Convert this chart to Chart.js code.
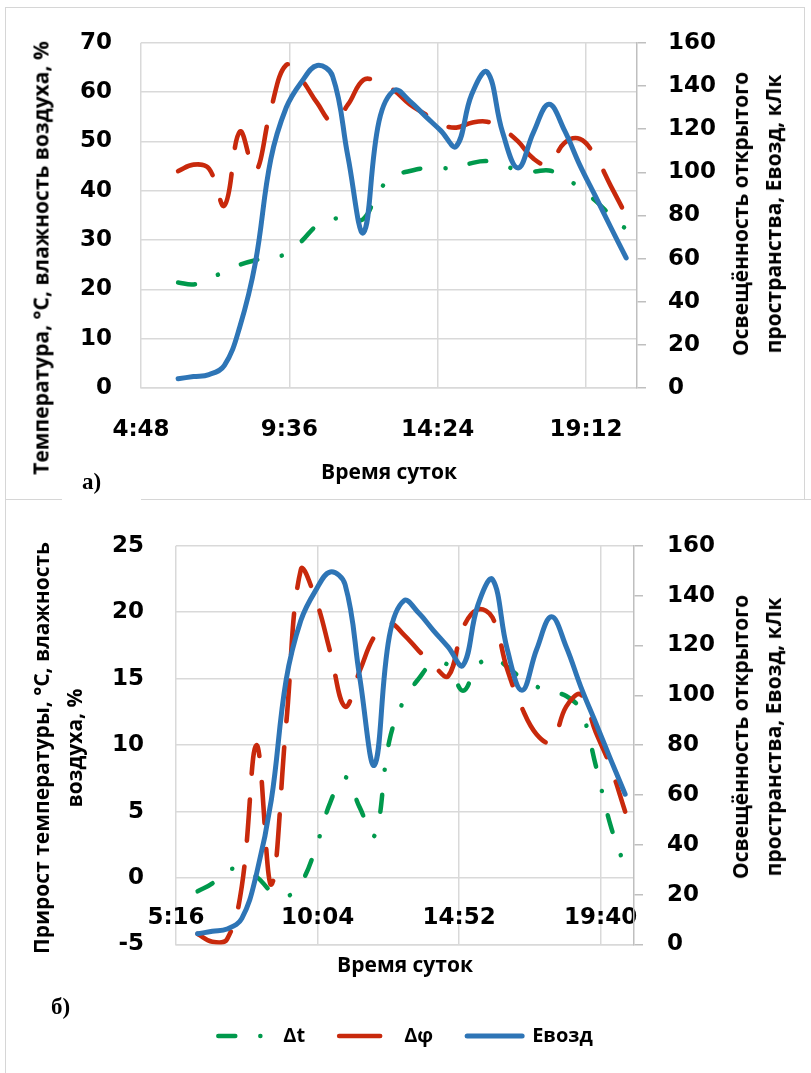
<!DOCTYPE html>
<html lang="ru">
<head>
<meta charset="utf-8">
<title>Освещённость, температура и влажность воздуха</title>
<script src="https://cdn.jsdelivr.net/npm/chart.js@4.4.1/dist/chart.umd.min.js"></script>
<style>
  body { margin: 0; background: #fff; }
  #list { position: relative; width: 811px; height: 1073px; overflow: hidden; background: #fff; }
  canvas { position: absolute; left: 0; }
  .linia { position: absolute; border: 0 solid #d6d6d6; }
  .zag {
    position: absolute; font-family: 'Open Sans', sans-serif; font-weight: bold; font-size: 21px;
    line-height: 33px; color: #000; white-space: nowrap; text-align: center;
    transform: translate(-50%, -50%) rotate(-90deg);
  }
  .bukva { position: absolute; font-family: 'Liberation Serif', 'Times New Roman', serif; font-weight: bold; font-size: 23px; line-height: 26px; }
</style>
</head>
<body>
<div id="list">
  <!-- рамки -->
  <div class="linia" style="left:5px;top:7px;height:1066px;border-left-width:1.5px;"></div>
  <div class="linia" style="left:5px;top:7px;width:800px;border-top-width:1.5px;"></div>
  <div class="linia" style="left:804px;top:7px;height:492px;border-left-width:1.5px;"></div>
  <div class="linia" style="left:5px;top:499px;width:806px;border-top-width:1.5px;"></div>
  <div style="position:absolute;left:62px;top:490px;width:79px;height:14px;background:#fff;"></div>

  <canvas id="grafA" width="811" height="500" style="top:0;"></canvas>
  <canvas id="grafB" width="811" height="573" style="top:500px;"></canvas>

  <div class="zag" style="left:41px;top:258px;">Температура, °С, влажность воздуха, %</div>
  <div class="zag" style="left:757px;top:214px;">Освещённость открытого<br>пространства, Евозд, кЛк</div>
  <div class="zag" style="left:58px;top:748px;">Прирост температуры, °С, влажность<br>воздуха, %</div>
  <div class="zag" style="left:757px;top:737px;">Освещённость открытого<br>пространства, Евозд, кЛк</div>

  <div class="bukva" style="left:82px;top:469px;">а)</div>
  <div class="bukva" style="left:51px;top:994px;">б)</div>
</div>

<script>
// Время наблюдений (через 30 минут)
const vremya = ['6:00', '6:30', '7:00', '7:30', '8:00', '8:30', '9:00', '9:30', '10:00', '10:30',
  '11:00', '11:30', '12:00', '12:30', '13:00', '13:30', '14:00', '14:30', '15:00', '15:30',
  '16:00', '16:30', '17:00', '17:30', '18:00', '18:30', '19:00', '19:30', '20:00', '20:30'];

// а) температура, °С и влажность воздуха, %
const temperatura = [21.4, 21.0, 22.0, 23.7, 25.0, 25.9, 26.5, 27.2, 29.8, 33.0,
  34.3, 34.2, 34.3, 40.0, 43.0, 44.0, 44.6, 44.6, 44.6, 45.6,
  46.0, 45.2, 44.2, 43.9, 44.1, 42.8, 40.5, 38.0, 35.0, 32.2];
const vlazhnost = [44.0, 45.3, 44.5, 37.0, 52.0, 44.0, 56.5, 65.5, 62.5, 57.8,
  54.0, 57.5, 62.5, 62.0, 60.3, 57.5, 55.5, 53.5, 52.8, 53.8,
  54.0, 52.5, 50.0, 46.5, 45.3, 49.7, 50.5, 47.0, 41.0, 35.0];

// освещённость открытого пространства, кЛк (одна и та же на обоих графиках)
const osveshchennost = [4.3, 5.3, 6.2, 10.5, 28.5, 58, 106, 130, 142, 149.5,
  144.5, 107, 72, 123.5, 138, 133, 126, 119.3, 112, 136,
  146.5, 118.5, 102, 118.5, 131.5, 119.5, 103.3, 89, 74.5, 60.3];

// б) прирост температуры и влажности
const prirostT = [-1.0, -0.4, 0.6, 0.6, 0.1, -1.0, -1.4, -0.4, 2.2, 5.7,
  7.6, 5.3, 3.2, 10.3, 13.4, 15.0, 16.2, 16.0, 14.1, 16.0,
  16.6, 15.9, 15.0, 14.4, 14.0, 13.7, 12.6, 8.5, 4.0, 0.8];
const prirostPhi = [-4.2, -4.8, -4.6, -0.6, 10.0, -0.5, 11.5, 23.2, 21.0, 17.0,
  12.9, 15.6, 18.2, 19.2, 18.3, 17.1, 16.0, 15.2, 18.8, 20.2,
  19.6, 15.7, 12.8, 10.8, 10.2, 12.9, 13.8, 11.0, 8.4, 5.0];

// подписи оси времени
const metkiA = ['4:48', '9:36', '14:24', '19:12'];
const metkiB = ['5:16', '10:04', '14:52', '19:40'];

const vMinuty = s => { const [h, m] = s.split(':').map(Number); return h * 60 + m; };
const tochki = ryad => ryad.map((v, i) => ({ x: vMinuty(vremya[i]), y: v }));

const shriftOsi = { family: "'DejaVu Sans', Verdana, sans-serif", weight: 'bold', size: 23 };
const shriftZag = { family: "'Open Sans', sans-serif", weight: 'bold', size: 21 };
const setka = '#d9d9d9';

const stilT = { borderColor: '#00994C', borderDash: [17, 25, 0.1, 25], borderWidth: 4.5 };
const stilPhi = { borderColor: '#C8290C', borderDash: [41, 26], borderWidth: 4.6 };
const stilE = { borderColor: '#2E75B6', borderDash: [], borderWidth: 5 };

const obshchie = {
  responsive: false,
  animation: false,
  devicePixelRatio: 1,
  elements: {
    line: { tension: 0.4, borderCapStyle: 'round', borderJoinStyle: 'round', fill: false },
    point: { radius: 0, hoverRadius: 0 }
  },
  events: []
};

// mirror нужен для графика б): подписи времени стоят внутри области над линией -5
function osX(metki, min, max, vysota, otstup, otstupZag, mirror) {
  return {
    type: 'linear', position: 'bottom', min: min, max: max,
    afterBuildTicks: s => { s.ticks = metki.map(t => ({ value: vMinuty(t) })); },
    afterFit: s => { s.height = vysota; },
    ticks: { autoSkip: false, maxRotation: 0, mirror: mirror, padding: otstup, color: '#000', font: shriftOsi,
      callback: (v, i) => metki[i] },
    grid: { color: setka, lineWidth: 1.5, drawTicks: false },
    border: { color: setka, width: 1.5 },
    title: { display: true, text: 'Время суток', color: '#000', font: shriftZag, padding: { top: 0, bottom: otstupZag } }
  };
}

function osLevaya(min, max, shag, shirina, otstup) {
  return {
    position: 'left', min: min, max: max,
    afterFit: s => { s.width = shirina; },
    ticks: { stepSize: shag, padding: otstup, color: '#000', font: shriftOsi },
    grid: { color: setka, lineWidth: 1.5, drawTicks: false },
    border: { display: false }
  };
}

function osPravaya(shirina, otstup) {
  return {
    position: 'right', min: 0, max: 160,
    afterFit: s => { s.width = shirina; },
    ticks: { stepSize: 20, padding: otstup, color: '#000', font: shriftOsi },
    grid: { drawOnChartArea: false, drawTicks: true, tickLength: 9, color: '#bfbfbf', lineWidth: 1.5 },
    border: { display: true, color: '#bfbfbf', width: 1.5 }
  };
}

// График а)
new Chart(document.getElementById('grafA'), {
  type: 'line',
  data: {
    datasets: [
      { label: 'Температура', data: tochki(temperatura), yAxisID: 'yL', order: 2, ...stilT },
      { label: 'Влажность', data: tochki(vlazhnost), yAxisID: 'yL', order: 1, ...stilPhi },
      { label: 'Евозд', data: tochki(osveshchennost), yAxisID: 'yR', order: 0, ...stilE }
    ]
  },
  options: {
    ...obshchie,
    layout: { padding: { top: 40, left: 0, right: 0, bottom: 0 } },
    plugins: { legend: { display: false }, tooltip: { enabled: false } },
    scales: {
      x: osX(metkiA, 288, 1251, 112, 28, 14, false),
      yL: osLevaya(0, 70, 10, 141, 29),
      yR: osPravaya(174, 22)
    }
  }
});

// График б)
new Chart(document.getElementById('grafB'), {
  type: 'line',
  data: {
    datasets: [
      { label: 'Δt', data: tochki(prirostT), yAxisID: 'yL', order: 2, ...stilT },
      { label: 'Δφ', data: tochki(prirostPhi), yAxisID: 'yL', order: 1, ...stilPhi },
      { label: 'Евозд', data: tochki(osveshchennost), yAxisID: 'yR', order: 0, ...stilE }
    ]
  },
  options: {
    ...obshchie,
    layout: { padding: { top: 32.5, left: 0, right: 0, bottom: 17 } },
    plugins: {
      tooltip: { enabled: false },
      legend: {
        display: true, position: 'bottom',
        labels: {
          usePointStyle: true, pointStyle: 'line', pointStyleWidth: 55, padding: 34,
          color: '#000', font: { family: "'Open Sans', sans-serif", weight: 'bold', size: 20 },
          sort: (a, b) => a.datasetIndex - b.datasetIndex,
          generateLabels: chart => {
            const items = Chart.defaults.plugins.legend.labels.generateLabels(chart);
            items.forEach(it => {
              const ds = chart.data.datasets[it.datasetIndex];
              it.lineDash = ds.borderDash;
              it.lineCap = 'round';
              it.lineWidth = ds.borderWidth;
              it.strokeStyle = ds.borderColor;
            });
            return items;
          }
        }
      }
    },
    scales: {
      x: osX(metkiB, 316, 1248, 47.5, 12.7, 13.4, true),
      yL: osLevaya(-5, 25, 5, 176, 32),
      yR: osPravaya(177, 24)
    }
  }
});
</script>
</body>
</html>
